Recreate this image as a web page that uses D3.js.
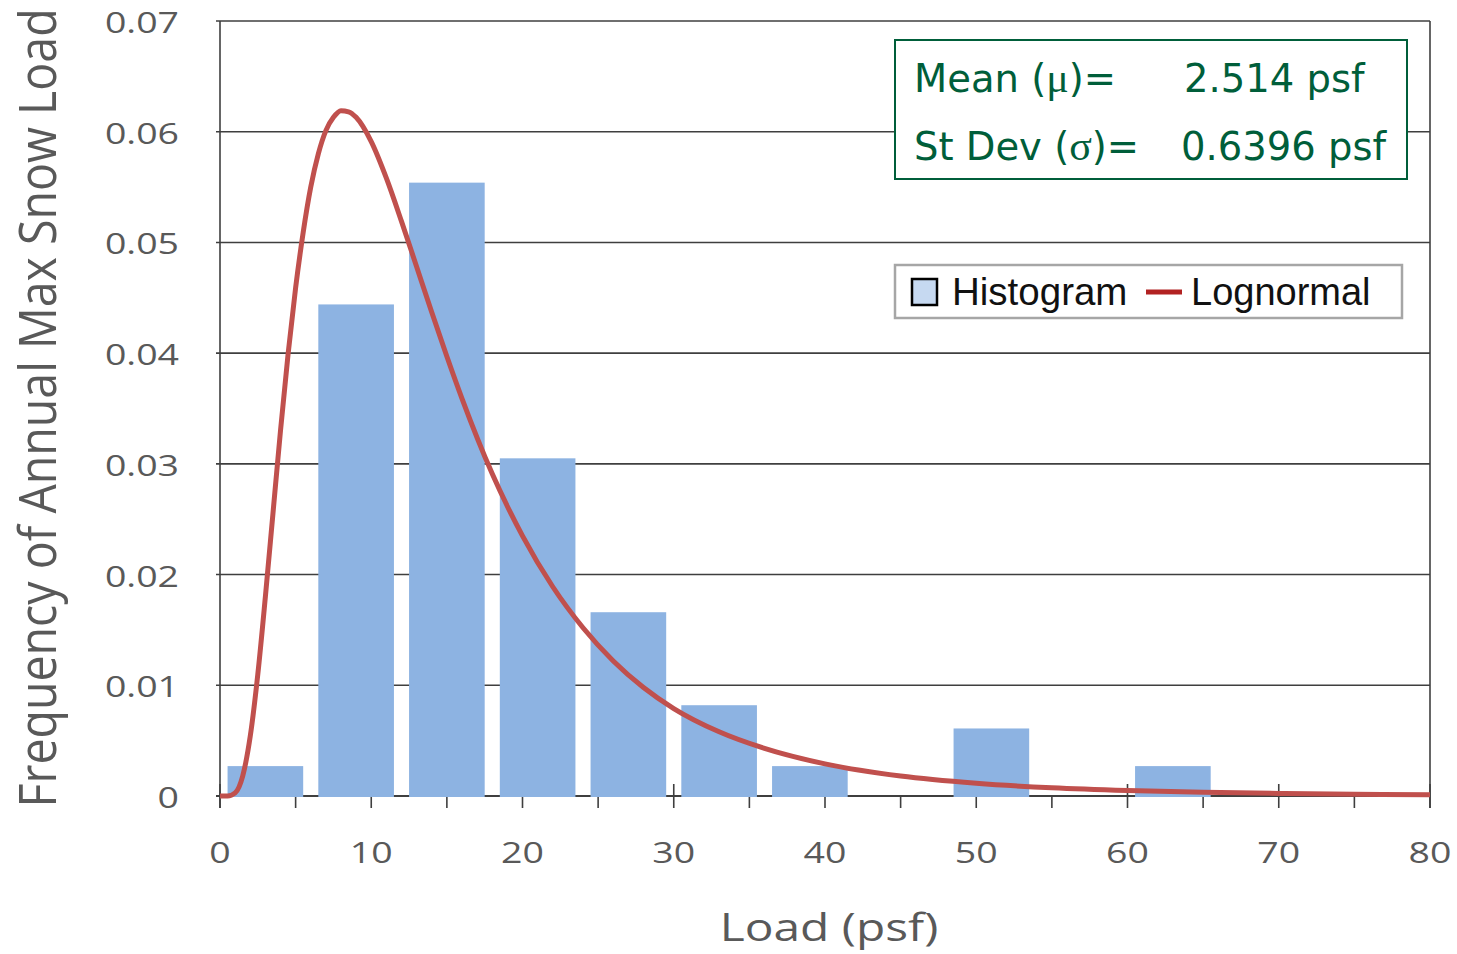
<!DOCTYPE html>
<html>
<head>
<meta charset="utf-8">
<script src="https://cdn.jsdelivr.net/npm/d3@7"></script>
<style>
  html, body { margin: 0; padding: 0; background: #ffffff; }
  svg { display: block; }
</style>
</head>
<body>
<svg id="chart" width="1457" height="954"></svg>
<script>
// Histogram of annual maximum snow load (6 psf bins) with fitted lognormal density
const binCenters = [3, 9, 15, 21, 27, 33, 39, 45, 51, 57, 63];
const frequencies = [0.0027, 0.0444, 0.0554, 0.0305, 0.0166, 0.0082, 0.0027, 0, 0.0061, 0, 0.0027];

// Lognormal density
const curveLoad = [0, 0.5, 1, 1.5, 2, 2.5, 3, 3.5, 4, 4.5, 5, 5.5, 6, 6.5, 7, 7.5, 8, 8.5, 9, 10, 11, 12, 13, 14, 15, 16, 18, 20, 22, 24, 26, 28, 30, 33, 36, 40, 45, 50, 55, 60, 65, 70, 75, 80];
const curveDensity = [0, 0, 0.00028, 0.0018, 0.0054, 0.0110, 0.0180, 0.0255, 0.0330, 0.0399, 0.0459, 0.0509, 0.0550, 0.0580, 0.0601, 0.0613, 0.0619, 0.0618, 0.0613, 0.0591, 0.0558, 0.0519, 0.0478, 0.0437, 0.0397, 0.0359, 0.0291, 0.0235, 0.0189, 0.0152, 0.0122, 0.0098, 0.0079, 0.0058, 0.0043, 0.0029, 0.0018, 0.00115, 0.00074, 0.00049, 0.00033, 0.00023, 0.00016, 0.00011];

const xTicks = [0, 10, 20, 30, 40, 50, 60, 70, 80];
const xMinorTicks = [5, 15, 25, 35, 45, 55, 65, 75];
const yTicks = [0, 0.01, 0.02, 0.03, 0.04, 0.05, 0.06, 0.07];
const yTickLabels = ["0", "0.01", "0.02", "0.03", "0.04", "0.05", "0.06", "0.07"];

const xTitle = "Load (psf)";
const yTitle = "Frequency of Annual Max Snow Load";
const statsRows = [
  { name: "Mean (", greek: "\u03BC", tail: ")=", value: "2.514 psf" },
  { name: "St Dev (", greek: "\u03C3", tail: ")=", value: "0.6396 psf" }
];
const legendItems = ["Histogram", "Lognormal"];

const binWidth = 5;

const svg = d3.select("#chart");
const W = 1457, H = 954;
const plot = { left: 220, right: 1430, top: 21, bottom: 796 };

const x = d3.scaleLinear().domain([0, 80]).range([plot.left, plot.right]);
const y = d3.scaleLinear().domain([0, 0.07]).range([plot.bottom, plot.top]);

const gridColor = "#3f3f3f";
const labelColor = "#595959";
const barColor = "#8DB3E2";
const lineColor = "#C0504D";
const statColor = "#005E3A";
const stretch = 1.27;

svg.append("rect").attr("width", W).attr("height", H).attr("fill", "#ffffff");

// Horizontal gridlines (including the top border)
svg.append("g")
  .selectAll("line")
  .data(yTicks.slice(1))
  .join("line")
  .attr("x1", plot.left - 4)
  .attr("x2", plot.right)
  .attr("y1", d => y(d))
  .attr("y2", d => y(d))
  .attr("stroke", gridColor)
  .attr("stroke-width", 1.6);

// Right border
svg.append("line")
  .attr("x1", plot.right).attr("x2", plot.right)
  .attr("y1", plot.top).attr("y2", plot.bottom + 12)
  .attr("stroke", gridColor).attr("stroke-width", 1.6);

// Left axis
svg.append("line")
  .attr("x1", plot.left).attr("x2", plot.left)
  .attr("y1", plot.top).attr("y2", plot.bottom + 12)
  .attr("stroke", gridColor).attr("stroke-width", 1.6);

// Bottom axis line with ticks (major ticks cross the axis)
const xAxisG = svg.append("g");
xAxisG.append("line")
  .attr("x1", plot.left - 4).attr("x2", plot.right)
  .attr("y1", y(0)).attr("y2", y(0))
  .attr("stroke", gridColor).attr("stroke-width", 1.8);
xAxisG.selectAll("line.major")
  .data(xTicks)
  .join("line")
  .attr("class", "major")
  .attr("x1", d => x(d)).attr("x2", d => x(d))
  .attr("y1", y(0) - 12).attr("y2", y(0) + 12)
  .attr("stroke", gridColor).attr("stroke-width", 1.6);
xAxisG.selectAll("line.minor")
  .data(xMinorTicks)
  .join("line")
  .attr("class", "minor")
  .attr("x1", d => x(d)).attr("x2", d => x(d))
  .attr("y1", y(0)).attr("y2", y(0) + 12)
  .attr("stroke", gridColor).attr("stroke-width", 1.6);

// Histogram bars
svg.append("g")
  .selectAll("rect")
  .data(binCenters.map((c, i) => ({ c, v: frequencies[i] })).filter(d => d.v > 0))
  .join("rect")
  .attr("x", d => x(d.c - binWidth / 2))
  .attr("width", d => x(d.c + binWidth / 2) - x(d.c - binWidth / 2))
  .attr("y", d => y(d.v))
  .attr("height", d => y(0) - y(d.v) + 1)
  .attr("fill", barColor);

// Lognormal curve
const line = d3.line()
  .x(d => x(d[0]))
  .y(d => y(d[1]))
  .curve(d3.curveMonotoneX);
svg.append("path")
  .datum(curveLoad.map((v, i) => [v, curveDensity[i]]))
  .attr("d", line)
  .attr("fill", "none")
  .attr("stroke", lineColor)
  .attr("stroke-width", 5)
  .attr("stroke-linejoin", "round");

// Tick labels, slightly widened
function wideText(g, tx, ty, str, size, anchor, k) {
  return g.append("text")
    .attr("transform", `translate(${tx},${ty}) scale(${k},1)`)
    .attr("text-anchor", anchor)
    .attr("font-family", "'Open Sans', 'Noto Sans', sans-serif")
    .attr("font-size", size)
    .attr("fill", labelColor)
    .text(str);
}

const yLab = svg.append("g");
yTicks.forEach((t, i) => wideText(yLab, 179, y(t) + 12, yTickLabels[i], 29.5, "end", stretch));

const xLab = svg.append("g");
xTicks.forEach(t => wideText(xLab, x(t), 863, String(t), 29.5, "middle", stretch));

// Axis titles
wideText(svg, 829, 941, xTitle, 38, "middle", 1.26);
svg.append("text")
  .attr("transform", "translate(56,408) scale(1.12,1) rotate(-90)")
  .attr("text-anchor", "middle")
  .attr("font-family", "'Open Sans', 'Noto Sans', sans-serif")
  .attr("font-size", 46.5)
  .attr("fill", labelColor)
  .text(yTitle);

// Fitted parameters box
const stats = svg.append("g");
stats.append("rect")
  .attr("x", 895).attr("y", 40).attr("width", 512).attr("height", 139)
  .attr("fill", "#ffffff").attr("stroke", statColor).attr("stroke-width", 2);
statsRows.forEach((r, i) => {
  const by = 92 + i * 68;
  const t = stats.append("text")
    .attr("x", 914).attr("y", by)
    .attr("font-family", "'DejaVu Sans', sans-serif")
    .attr("font-size", 38.5)
    .attr("fill", statColor);
  t.append("tspan").text(r.name);
  t.append("tspan").attr("font-family", "'Liberation Serif', 'DejaVu Serif', serif").attr("font-size", 42).text(r.greek);
  t.append("tspan").text(r.tail);
  stats.append("text")
    .attr("x", i === 0 ? 1184 : 1181).attr("y", by)
    .attr("font-family", "'DejaVu Sans', sans-serif")
    .attr("font-size", 38.5)
    .attr("fill", statColor)
    .text(r.value);
});

// Legend
const leg = svg.append("g");
leg.append("rect")
  .attr("x", 895).attr("y", 265).attr("width", 507).attr("height", 53)
  .attr("fill", "#ffffff").attr("stroke", "#a6a6a6").attr("stroke-width", 2.5);
leg.append("rect")
  .attr("x", 912).attr("y", 279).attr("width", 25).attr("height", 26)
  .attr("fill", "#C6D9F1").attr("stroke", "#000000").attr("stroke-width", 2.5);
leg.append("text")
  .attr("x", 952).attr("y", 305)
  .attr("font-family", "'Liberation Sans', Arial, sans-serif")
  .attr("font-size", 38.5)
  .attr("fill", "#111111")
  .text(legendItems[0]);
leg.append("line")
  .attr("x1", 1146).attr("x2", 1182).attr("y1", 292).attr("y2", 292)
  .attr("stroke", "#B22222").attr("stroke-width", 5);
leg.append("text")
  .attr("x", 1191).attr("y", 305)
  .attr("font-family", "'Liberation Sans', Arial, sans-serif")
  .attr("font-size", 38)
  .attr("fill", "#111111")
  .text(legendItems[1]);
</script>
</body>
</html>
